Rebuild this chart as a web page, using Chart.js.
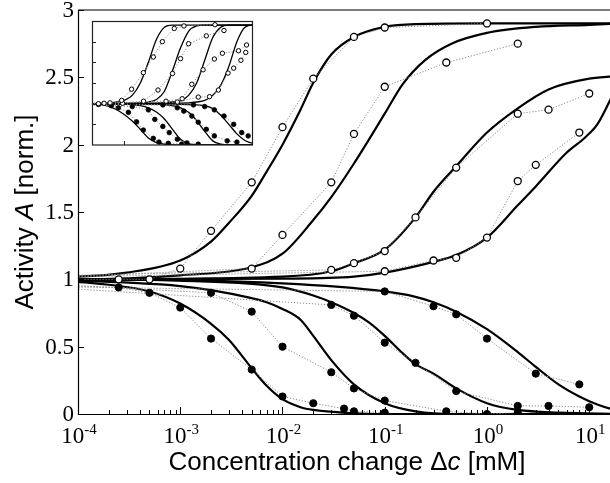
<!DOCTYPE html>
<html><head><meta charset="utf-8">
<script src="https://cdn.jsdelivr.net/npm/chart.js@4/dist/chart.umd.min.js"></script>
<style>
html,body{margin:0;padding:0;background:#fff;overflow:hidden;width:610px;height:483px}
#wrap{position:relative;width:610px;height:483px;overflow:hidden}
#main{position:absolute;left:0;top:0}
#inset{position:absolute;left:91px;top:20px}
</style></head><body>
<div id="wrap"><canvas id="main" width="630" height="483"></canvas><canvas id="inset" width="163" height="126"></canvas></div>
<script>
// ---------- main axes ----------
const xMin = 1e-4, xMax = 20;
const yMin = 0, yMax = 3;
const yTicks = [0, 0.5, 1, 1.5, 2, 2.5, 3];
const yTickLabels = ['0', '0.5', '1', '1.5', '2', '2.5', '3'];
const xDecades = [1e-4, 1e-3, 1e-2, 1e-1, 1, 10];
const xTickExps = ['-4', '-3', '-2', '-1', '0', '1'];

// ---------- measured activation (open circles) ----------
const A1x = [2e-5, 2.5e-4, 5e-4, 1e-3, 2e-3, 5e-3, 1e-2, 2e-2, 5e-2, 1e-1, 1];
const A1y = [1.0, 1.0, 1.0, 1.08, 1.36, 1.72, 2.13, 2.49, 2.80, 2.87, 2.90];
const A2x = [2e-5, 5e-3, 1e-2, 3e-2, 5e-2, 1e-1, 4e-1, 2];
const A2y = [1.0, 1.08, 1.33, 1.72, 2.08, 2.43, 2.61, 2.75];
const A3x = [2e-5, 3e-2, 5e-2, 1e-1, 2e-1, 5e-1, 2, 4, 10];
const A3y = [1.02, 1.07, 1.12, 1.21, 1.46, 1.83, 2.23, 2.26, 2.38];
const A4x = [2e-5, 1e-1, 3e-1, 5e-1, 1, 2, 3, 8];
const A4y = [1.01, 1.06, 1.14, 1.16, 1.31, 1.73, 1.85, 2.09];
// ---------- measured inhibition (filled circles) ----------
const I1x = [2e-5, 2.5e-4, 5e-4, 1e-3, 2e-3, 5e-3, 1e-2, 2e-2, 4e-2, 5e-2, 1e-1];
const I1y = [0.97, 0.94, 0.90, 0.79, 0.56, 0.33, 0.13, 0.08, 0.04, 0.02, 0.01];
const I2x = [2e-5, 2e-3, 5e-3, 1e-2, 3e-2, 5e-2, 1e-1, 4e-1, 1, 2];
const I2y = [0.98, 0.90, 0.76, 0.50, 0.31, 0.19, 0.10, 0.02, 0.0, 0.01];
const I3x = [2e-5, 3e-2, 5e-2, 1e-1, 2e-1, 5e-1, 2, 4, 10];
const I3y = [0.96, 0.81, 0.73, 0.53, 0.38, 0.17, 0.06, 0.06, 0.05];
const I4x = [2e-5, 1e-1, 3e-1, 5e-1, 1, 3, 8];
const I4y = [0.95, 0.91, 0.80, 0.74, 0.56, 0.30, 0.22];

// ---------- model curves (solid) ----------
const SA1x = [1e-5, 1e-4, 3e-4, 1e-3, 2e-3, 3e-3, 5e-3, 7e-3, 1e-2, 1.5e-2, 2e-2, 3e-2, 5e-2, 1e-1, 2e-1, 1, 20];
const SA1y = [1.01, 1.02, 1.05, 1.14, 1.28, 1.42, 1.62, 1.80, 2.00, 2.26, 2.46, 2.67, 2.80, 2.875, 2.895, 2.9, 2.9];
const SA2x = [1e-5, 1e-4, 1e-3, 5e-3, 1e-2, 2e-2, 3e-2, 5e-2, 1e-1, 1.5e-1, 2.5e-1, 4.5e-1, 1, 3, 10, 20];
const SA2y = [1.0, 1.0, 1.03, 1.09, 1.19, 1.44, 1.61, 1.86, 2.23, 2.45, 2.63, 2.75, 2.83, 2.875, 2.89, 2.9];
const SA3x = [1e-5, 1e-4, 1e-2, 3e-2, 5e-2, 1e-1, 2e-1, 3e-1, 5e-1, 1, 2, 4, 10, 20];
const SA3y = [1.0, 1.0, 1.02, 1.06, 1.12, 1.22, 1.46, 1.65, 1.84, 2.09, 2.27, 2.41, 2.49, 2.51];
const SA4x = [1e-5, 1e-4, 1e-2, 5e-2, 1e-1, 3e-1, 5e-1, 1, 2, 3, 6, 9, 12, 16, 20];
const SA4y = [1.0, 1.0, 1.005, 1.02, 1.05, 1.13, 1.18, 1.31, 1.55, 1.69, 1.94, 2.05, 2.15, 2.33, 2.5];
const SI1x = [1e-5, 1e-4, 2e-4, 5e-4, 1e-3, 2e-3, 3e-3, 5e-3, 7e-3, 1e-2, 1.5e-2, 2e-2, 5e-2, 1e-1, 20];
const SI1y = [0.99, 0.98, 0.96, 0.91, 0.82, 0.67, 0.55, 0.34, 0.21, 0.11, 0.05, 0.03, 0.005, 0.0, 0.0];
const SI2x = [1e-5, 1e-4, 1e-3, 2e-3, 5e-3, 7e-3, 1e-2, 1.5e-2, 2e-2, 3e-2, 5e-2, 1e-1, 2e-1, 5e-1, 20];
const SI2y = [1.0, 0.99, 0.95, 0.92, 0.86, 0.83, 0.78, 0.70, 0.58, 0.40, 0.22, 0.08, 0.02, 0.0, 0.0];
const SI3x = [1e-5, 1e-4, 1e-3, 1e-2, 2e-2, 3e-2, 5e-2, 7e-2, 1e-1, 1.5e-1, 2e-1, 3e-1, 5e-1, 1, 2, 5, 20];
const SI3y = [1.0, 1.0, 0.99, 0.94, 0.88, 0.83, 0.75, 0.68, 0.58, 0.45, 0.37, 0.30, 0.19, 0.08, 0.03, 0.01, 0.0];
const SI4x = [1e-5, 1e-4, 1e-2, 1e-1, 2e-1, 3e-1, 5e-1, 1, 2, 3, 5, 8, 12, 16, 20];
const SI4y = [1.0, 1.0, 0.97, 0.91, 0.87, 0.83, 0.76, 0.63, 0.46, 0.35, 0.22, 0.13, 0.07, 0.04, 0.03];

// ---------- inset (arbitrary units) ----------
const inXMin = 0, inXMax = 10, inYMin = 0, inYMax = 3;
const inYTicks = [0.5, 1, 1.5, 2, 2.5];
const inXTicks = [2];
const inC1x = [-1, 1, 1.5, 2, 2.5, 3, 3.5, 4, 4.5, 5, 11];
const inC1y = [1.0, 1.01, 1.04, 1.08, 1.2, 1.5, 2.0, 2.55, 2.85, 2.9, 2.9];
const inC2x = [-1, 2.5, 3, 3.5, 4, 4.5, 5, 5.5, 6, 6.5, 7, 11];
const inC2y = [1.0, 1.01, 1.02, 1.04, 1.1, 1.3, 1.8, 2.35, 2.75, 2.88, 2.9, 2.9];
const inC3x = [-1, 4, 5, 5.5, 6, 6.5, 7, 7.5, 8, 8.5, 11];
const inC3y = [1.0, 1.01, 1.04, 1.07, 1.2, 1.5, 2.05, 2.6, 2.85, 2.9, 2.9];
const inC4x = [-1, 6, 6.5, 7, 7.5, 8, 8.5, 9, 9.5, 10, 11];
const inC4y = [1.0, 1.02, 1.04, 1.08, 1.2, 1.45, 1.9, 2.5, 2.85, 2.9, 2.9];
const inK1x = [-1, 0.5, 1, 1.5, 2, 2.5, 3, 3.5, 4, 4.5, 5, 11];
const inK1y = [1.0, 0.98, 0.94, 0.86, 0.74, 0.58, 0.38, 0.17, 0.06, 0.02, 0.0, 0.0];
const inK2x = [-1, 2, 3, 3.5, 4, 4.5, 5, 5.5, 6, 6.5, 11];
const inK2y = [1.0, 0.99, 0.95, 0.9, 0.8, 0.63, 0.38, 0.14, 0.03, 0.01, 0.0];
const inK3x = [-1, 4, 5, 5.5, 6, 6.5, 7, 7.5, 8, 8.5, 11];
const inK3y = [1.0, 0.99, 0.95, 0.9, 0.79, 0.59, 0.33, 0.1, 0.02, 0.0, 0.0];
const inK4x = [-1, 5, 6, 7, 7.5, 8, 8.5, 9, 9.5, 10, 11];
const inK4y = [1.0, 0.99, 0.98, 0.95, 0.88, 0.72, 0.5, 0.27, 0.11, 0.04, 0.01];
const inDA1x = [-1, 0.4, 0.75, 1.12, 1.84, 2.46, 3.19, 3.81, 4.37, 5.11, 5.71, 7.64];
const inDA1y = [1.0, 1.0, 1.01, 1.02, 1.08, 1.35, 1.75, 2.13, 2.5, 2.82, 2.88, 2.91];
const inDA2x = [-1, 1.9, 3.2, 4.1, 5.0, 5.5, 6.0, 7.1, 8.2];
const inDA2y = [1.0, 1.01, 1.06, 1.33, 1.73, 2.09, 2.45, 2.64, 2.77];
const inDA3x = [-1, 4.6, 5.6, 6.2, 6.9, 7.6, 8.1, 9.1, 9.6];
const inDA3y = [1.0, 1.06, 1.12, 1.47, 1.82, 2.08, 2.22, 2.28, 2.42];
const inDA4x = [-1, 5.3, 6.6, 7.3, 7.85, 8.45, 8.8, 9.25, 9.55];
const inDA4y = [1.0, 1.04, 1.16, 1.17, 1.33, 1.74, 1.86, 2.05, 2.24];
const inDI1x = [-1, 0.4, 1.2, 1.64, 2.26, 2.77, 3.19, 3.81, 4.16, 4.74, 5.57];
const inDI1y = [0.99, 0.98, 0.95, 0.9, 0.79, 0.56, 0.36, 0.16, 0.07, 0.04, 0.02];
const inDI2x = [-1, 2.5, 3.5, 3.9, 4.4, 4.8, 5.3, 5.9, 6.6];
const inDI2y = [0.98, 0.93, 0.85, 0.62, 0.45, 0.3, 0.14, 0.05, 0.02];
const inDI3x = [-1, 4.4, 5.3, 5.7, 6.2, 6.6, 7.1, 7.6, 8.4, 9.0];
const inDI3y = [0.98, 0.97, 0.9, 0.82, 0.7, 0.55, 0.38, 0.22, 0.1, 0.07];
const inDI4x = [-1, 6.3, 7.0, 7.6, 8.2, 8.8, 9.3, 9.7];
const inDI4y = [0.98, 0.97, 0.93, 0.85, 0.7, 0.5, 0.3, 0.22];

// ---------- helpers ----------
const SERIF = '"Liberation Serif", "Times New Roman", "DejaVu Serif", serif';
const SANS = '"Liberation Sans", Arial, sans-serif';
const pairs = (xs, ys) => xs.map((x, i) => ({x: x, y: ys[i]}));
function curve(xs, ys, w) {
  return {data: pairs(xs, ys), borderColor: '#000', borderWidth: w, pointRadius: 0,
    cubicInterpolationMode: 'monotone', fill: false, order: 2};
}
function meas(xs, ys, filled, r, bw) {
  return {data: pairs(xs, ys), borderColor: '#8a8a8a', borderWidth: 1, borderDash: [1.2, 1.8],
    pointRadius: r, pointBorderWidth: bw, pointBorderColor: '#000',
    pointBackgroundColor: filled ? '#000' : '#fff', tension: 0, fill: false, order: 1};
}
function whiteBg(chart) {
  const c = chart.ctx; c.save(); c.fillStyle = '#fff'; c.fillRect(0, 0, chart.width, chart.height); c.restore();
}

// ---------- main chart ----------
const mainAxes = {
  id: 'mainAxes',
  beforeDraw: whiteBg,
  afterDatasetsDraw(chart) {
    const ctx = chart.ctx, a = chart.chartArea, x = chart.scales.x, y = chart.scales.y;
    ctx.save();
    ctx.strokeStyle = '#000'; ctx.lineWidth = 1.2;
    ctx.beginPath();
    ctx.moveTo(a.left + 0.5, a.top); ctx.lineTo(a.left + 0.5, a.bottom + 0.5); ctx.lineTo(a.right + 5, a.bottom + 0.5);
    ctx.stroke();
    ctx.fillStyle = '#7d7d7d'; ctx.fillRect(a.left, a.top - 1, a.right - a.left + 10, 2);
    ctx.lineWidth = 1;
    yTicks.forEach(v => {
      const py = Math.round(y.getPixelForValue(v)) + 0.5;
      ctx.beginPath(); ctx.moveTo(a.left, py); ctx.lineTo(a.left + 6, py); ctx.stroke();
    });
    xDecades.forEach(d => {
      for (let m = 1; m <= 9; m++) {
        const v = d * m; if (v > xMax) break;
        const px = Math.round(x.getPixelForValue(v)) + 0.5;
        const len = m === 1 ? 7 : 4;
        ctx.beginPath(); ctx.moveTo(px, a.bottom); ctx.lineTo(px, a.bottom - len); ctx.stroke();
      }
    });
    ctx.restore();
  },
  afterDraw(chart) {
    const ctx = chart.ctx, a = chart.chartArea, x = chart.scales.x, y = chart.scales.y;
    ctx.save();
    ctx.fillStyle = '#000';
    ctx.font = '23px ' + SERIF;
    ctx.textAlign = 'right'; ctx.textBaseline = 'middle';
    yTicks.forEach((v, i) => ctx.fillText(yTickLabels[i], a.left - 4, y.getPixelForValue(v) + 1));
    ctx.textAlign = 'left'; ctx.textBaseline = 'alphabetic';
    xDecades.forEach((d, i) => {
      const px = x.getPixelForValue(d);
      ctx.font = '23px ' + SERIF; const wb = ctx.measureText('10').width;
      ctx.font = '15px ' + SERIF; const ws = ctx.measureText(xTickExps[i]).width;
      const start = px - (wb + ws) / 2 + 1;
      ctx.font = '23px ' + SERIF; ctx.fillText('10', start, 443);
      ctx.font = '15px ' + SERIF; ctx.fillText(xTickExps[i], start + wb, 434);
    });
    const drawSegs = (segs, cx, cy, rot) => {
      ctx.save(); ctx.translate(cx, cy); if (rot) ctx.rotate(rot);
      let total = 0;
      segs.forEach(s => { ctx.font = (s[1] ? 'italic ' : '') + '26px ' + SANS; total += ctx.measureText(s[0]).width; });
      let pos = -total / 2;
      segs.forEach(s => { ctx.font = (s[1] ? 'italic ' : '') + '26px ' + SANS; ctx.fillText(s[0], pos, 0); pos += ctx.measureText(s[0]).width; });
      ctx.restore();
    };
    drawSegs([['Activity ', false], ['A', true], [' [norm.]', false]], 33, 212, -Math.PI / 2);
    drawSegs([['Concentration change \u0394', false], ['c', true], [' [mM]', false]], 347, 470, 0);
    ctx.restore();
  }
};

new Chart(document.getElementById('main'), {
  type: 'line',
  data: {datasets: [
    curve(SA1x, SA1y, 2.2), curve(SA2x, SA2y, 2.2), curve(SA3x, SA3y, 2.2), curve(SA4x, SA4y, 2.2),
    curve(SI1x, SI1y, 2.2), curve(SI2x, SI2y, 2.2), curve(SI3x, SI3y, 2.2), curve(SI4x, SI4y, 2.2),
    meas(A1x, A1y, false, 3.5, 1.3), meas(A2x, A2y, false, 3.5, 1.3), meas(A3x, A3y, false, 3.5, 1.3), meas(A4x, A4y, false, 3.5, 1.3),
    meas(I1x, I1y, true, 3.6, 1), meas(I2x, I2y, true, 3.6, 1), meas(I3x, I3y, true, 3.6, 1), meas(I4x, I4y, true, 3.6, 1)
  ]},
  options: {
    responsive: false, animation: false, events: [],
    layout: {autoPadding: false, padding: {left: 78, top: 10, right: 10, bottom: 69}},
    plugins: {legend: {display: false}, tooltip: {enabled: false}},
    scales: {
      x: {type: 'logarithmic', min: xMin, max: xMax, display: false},
      y: {type: 'linear', min: yMin, max: yMax, display: false}
    }
  },
  plugins: [mainAxes]
});

// ---------- inset chart ----------
const insetAxes = {
  id: 'insetAxes',
  beforeDraw: whiteBg,
  afterDatasetsDraw(chart) {
    const ctx = chart.ctx, a = chart.chartArea, x = chart.scales.x, y = chart.scales.y;
    ctx.save();
    ctx.strokeStyle = '#222'; ctx.lineWidth = 1.2;
    ctx.strokeRect(a.left + 0.5, a.top + 0.5, a.right - a.left - 1, a.bottom - a.top - 0.5);
    ctx.lineWidth = 1;
    inYTicks.forEach(v => {
      const py = Math.round(y.getPixelForValue(v)) + 0.5;
      ctx.beginPath(); ctx.moveTo(a.left, py); ctx.lineTo(a.left + 4, py); ctx.stroke();
    });
    inXTicks.forEach(v => {
      const px = Math.round(x.getPixelForValue(v)) + 0.5;
      ctx.beginPath(); ctx.moveTo(px, a.bottom); ctx.lineTo(px, a.bottom - 4); ctx.stroke();
    });
    ctx.restore();
  }
};

new Chart(document.getElementById('inset'), {
  type: 'line',
  data: {datasets: [
    curve(inC1x, inC1y, 1.3), curve(inC2x, inC2y, 1.3), curve(inC3x, inC3y, 1.3), curve(inC4x, inC4y, 1.3),
    curve(inK1x, inK1y, 1.3), curve(inK2x, inK2y, 1.3), curve(inK3x, inK3y, 1.3), curve(inK4x, inK4y, 1.3),
    meas(inDA1x, inDA1y, false, 2.2, 1), meas(inDA2x, inDA2y, false, 2.2, 1), meas(inDA3x, inDA3y, false, 2.2, 1), meas(inDA4x, inDA4y, false, 2.2, 1),
    meas(inDI1x, inDI1y, true, 2.3, 0.8), meas(inDI2x, inDI2y, true, 2.3, 0.8), meas(inDI3x, inDI3y, true, 2.3, 0.8), meas(inDI4x, inDI4y, true, 2.3, 0.8)
  ]},
  options: {
    responsive: false, animation: false, events: [],
    layout: {autoPadding: false, padding: {left: 1, top: 1, right: 1, bottom: 1}},
    plugins: {legend: {display: false}, tooltip: {enabled: false}},
    scales: {
      x: {type: 'linear', min: inXMin, max: inXMax, display: false},
      y: {type: 'linear', min: inYMin, max: inYMax, display: false}
    }
  },
  plugins: [insetAxes]
});
</script>
</body></html>
